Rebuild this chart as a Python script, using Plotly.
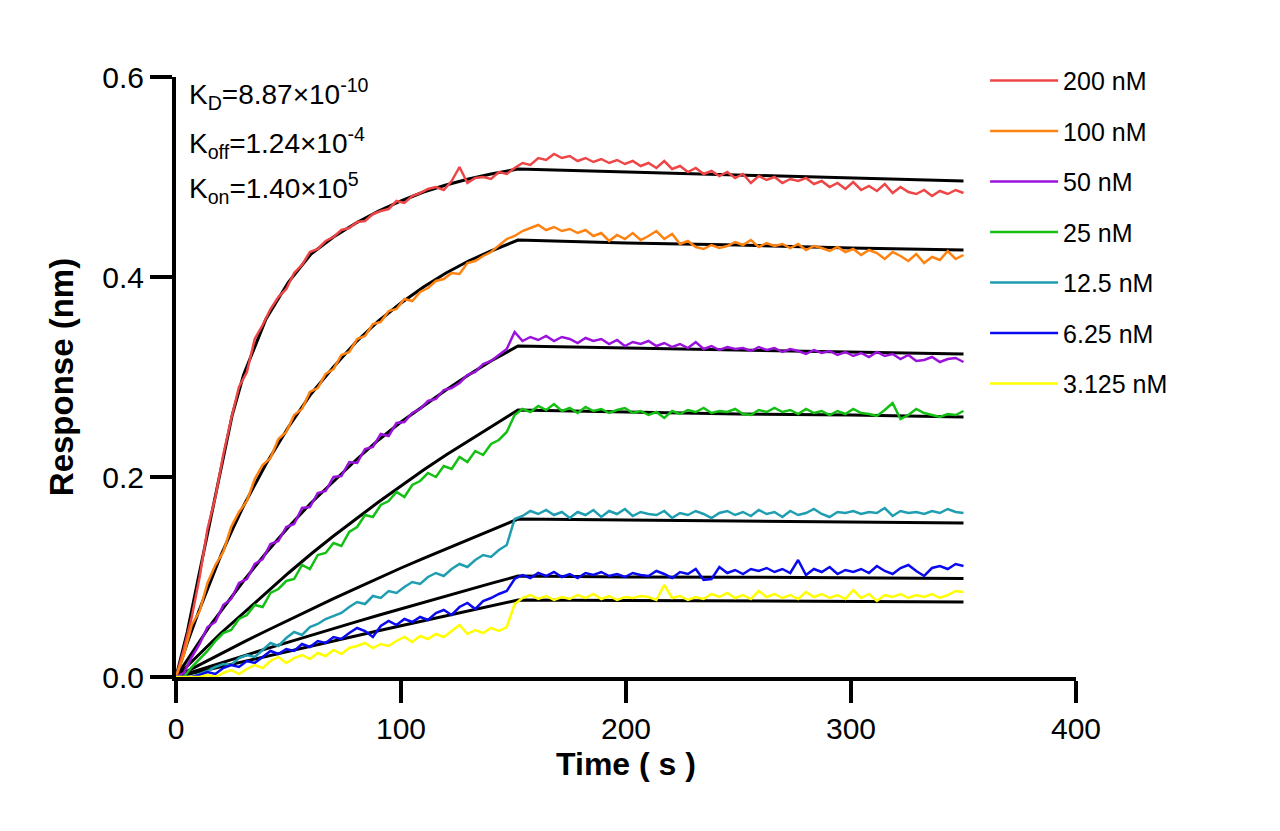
import plotly.graph_objects as go

# ---------------- data ----------------
series_names = ["200 nM", "100 nM", "50 nM", "25 nM", "12.5 nM", "6.25 nM", "3.125 nM"]
series_colors = ["#EE4646", "#FF8210", "#9B12DC", "#14C014", "#1E9EB0", "#0A0AF0", "#FFFF00"]

# sampling grid of the measured curves (s)
time_s = [i * 3.5 for i in range(101)]

resp_200 = [0.000, 0.028, 0.060, 0.100, 0.148, 0.180, 0.222, 0.258, 0.290, 0.305,
            0.338, 0.352, 0.368, 0.380, 0.388, 0.404, 0.412, 0.425, 0.428, 0.436,
            0.440, 0.447, 0.449, 0.455, 0.456, 0.463, 0.466, 0.468, 0.476, 0.474,
            0.481, 0.484, 0.488, 0.490, 0.487, 0.496, 0.510, 0.494, 0.499, 0.500,
            0.498, 0.505, 0.503, 0.509, 0.514, 0.512, 0.519, 0.517, 0.523, 0.519,
            0.521, 0.516, 0.519, 0.515, 0.518, 0.514, 0.517, 0.513, 0.516, 0.511,
            0.514, 0.509, 0.516, 0.508, 0.511, 0.505, 0.509, 0.503, 0.506, 0.501,
            0.505, 0.499, 0.503, 0.494, 0.501, 0.497, 0.500, 0.494, 0.498, 0.496,
            0.499, 0.493, 0.496, 0.490, 0.494, 0.488, 0.495, 0.487, 0.491, 0.486,
            0.493, 0.484, 0.490, 0.485, 0.483, 0.487, 0.481, 0.486, 0.483, 0.487,
            0.484]
resp_100 = [0.000, 0.022, 0.052, 0.066, 0.094, 0.112, 0.125, 0.150, 0.165, 0.176,
            0.198, 0.212, 0.219, 0.238, 0.245, 0.262, 0.268, 0.285, 0.289, 0.303,
            0.308, 0.322, 0.325, 0.338, 0.341, 0.353, 0.355, 0.366, 0.368, 0.378,
            0.376, 0.385, 0.389, 0.396, 0.398, 0.404, 0.403, 0.414, 0.416, 0.421,
            0.425, 0.432, 0.438, 0.441, 0.446, 0.449, 0.452, 0.447, 0.450, 0.446,
            0.448, 0.444, 0.447, 0.441, 0.444, 0.436, 0.442, 0.438, 0.444, 0.437,
            0.441, 0.446, 0.438, 0.443, 0.433, 0.436, 0.430, 0.428, 0.432, 0.429,
            0.431, 0.435, 0.432, 0.437, 0.430, 0.434, 0.431, 0.433, 0.429, 0.433,
            0.427, 0.431, 0.429, 0.426, 0.430, 0.425, 0.428, 0.422, 0.427, 0.424,
            0.418, 0.425, 0.421, 0.416, 0.423, 0.414, 0.420, 0.417, 0.426, 0.418,
            0.422]
resp_50 = [0.000, 0.004, 0.020, 0.033, 0.050, 0.055, 0.072, 0.078, 0.094, 0.098,
           0.113, 0.118, 0.133, 0.136, 0.150, 0.153, 0.169, 0.170, 0.184, 0.186,
           0.200, 0.201, 0.215, 0.214, 0.228, 0.230, 0.243, 0.241, 0.254, 0.255,
           0.264, 0.268, 0.276, 0.278, 0.287, 0.289, 0.294, 0.302, 0.305, 0.313,
           0.316, 0.322, 0.328, 0.345, 0.336, 0.340, 0.337, 0.341, 0.336, 0.340,
           0.338, 0.334, 0.339, 0.336, 0.338, 0.333, 0.337, 0.331, 0.335, 0.333,
           0.336, 0.331, 0.334, 0.330, 0.333, 0.329, 0.335, 0.328, 0.331, 0.327,
           0.330, 0.328, 0.329, 0.326, 0.330, 0.327, 0.329, 0.325, 0.328, 0.326,
           0.323, 0.327, 0.324, 0.326, 0.322, 0.325, 0.321, 0.324, 0.320, 0.325,
           0.321, 0.323, 0.318, 0.322, 0.316, 0.317, 0.320, 0.315, 0.318, 0.319,
           0.315]
resp_25 = [0.000, 0.000, 0.010, 0.018, 0.026, 0.036, 0.044, 0.047, 0.058, 0.062,
           0.072, 0.070, 0.084, 0.088, 0.096, 0.098, 0.112, 0.108, 0.122, 0.124,
           0.134, 0.131, 0.145, 0.150, 0.162, 0.160, 0.172, 0.176, 0.185, 0.180,
           0.192, 0.196, 0.204, 0.200, 0.211, 0.208, 0.220, 0.215, 0.226, 0.222,
           0.233, 0.237, 0.245, 0.262, 0.268, 0.265, 0.271, 0.267, 0.273, 0.266,
           0.269, 0.264, 0.270, 0.266, 0.268, 0.264, 0.267, 0.269, 0.264, 0.266,
           0.262, 0.265, 0.259, 0.266, 0.263, 0.267, 0.265, 0.269, 0.264, 0.266,
           0.265, 0.268, 0.263, 0.262, 0.267, 0.265, 0.269, 0.265, 0.267, 0.263,
           0.268, 0.264, 0.266, 0.262, 0.266, 0.263, 0.268, 0.264, 0.263, 0.261,
           0.267, 0.274, 0.258, 0.262, 0.268, 0.264, 0.262, 0.260, 0.263, 0.262,
           0.266]
resp_12_5 = [0.000, 0.000, 0.000, 0.003, 0.006, 0.010, 0.013, 0.012, 0.019, 0.022,
             0.020, 0.027, 0.034, 0.031, 0.039, 0.045, 0.042, 0.050, 0.053, 0.058,
             0.061, 0.064, 0.070, 0.075, 0.073, 0.081, 0.079, 0.086, 0.084, 0.090,
             0.095, 0.093, 0.100, 0.104, 0.101, 0.108, 0.113, 0.110, 0.117, 0.122,
             0.120, 0.127, 0.132, 0.158, 0.161, 0.166, 0.163, 0.167, 0.162, 0.165,
             0.159, 0.165, 0.162, 0.167, 0.160, 0.166, 0.163, 0.168, 0.161, 0.165,
             0.163, 0.162, 0.166, 0.159, 0.164, 0.162, 0.166, 0.163, 0.159, 0.164,
             0.166, 0.162, 0.165, 0.161, 0.167, 0.163, 0.165, 0.160, 0.166, 0.162,
             0.164, 0.168, 0.163, 0.160, 0.165, 0.164, 0.166, 0.163, 0.165, 0.164,
             0.169, 0.161, 0.166, 0.164, 0.165, 0.163, 0.166, 0.164, 0.168, 0.165,
             0.164]
resp_6_25 = [0.000, 0.000, 0.000, 0.002, 0.005, 0.003, 0.009, 0.012, 0.010, 0.016,
             0.014, 0.020, 0.026, 0.023, 0.028, 0.026, 0.033, 0.030, 0.036, 0.034,
             0.040, 0.038, 0.044, 0.049, 0.046, 0.040, 0.051, 0.056, 0.052, 0.058,
             0.055, 0.060, 0.057, 0.064, 0.067, 0.062, 0.070, 0.074, 0.068, 0.076,
             0.079, 0.083, 0.086, 0.098, 0.102, 0.099, 0.104, 0.101, 0.105, 0.100,
             0.103, 0.099, 0.104, 0.102, 0.105, 0.101, 0.103, 0.100, 0.104, 0.102,
             0.101, 0.106, 0.103, 0.099, 0.105, 0.103, 0.108, 0.097, 0.098, 0.110,
             0.104, 0.107, 0.103, 0.108, 0.106, 0.109, 0.105, 0.108, 0.104, 0.117,
             0.102, 0.108, 0.105, 0.110, 0.103, 0.107, 0.105, 0.108, 0.104, 0.111,
             0.106, 0.103, 0.109, 0.112, 0.106, 0.101, 0.109, 0.111, 0.108, 0.113,
             0.111]
resp_3_125 = [0.000, 0.000, 0.000, 0.000, 0.002, 0.000, 0.004, 0.007, 0.003, 0.008,
              0.012, 0.009, 0.016, 0.020, 0.014, 0.019, 0.022, 0.018, 0.024, 0.021,
              0.027, 0.023, 0.029, 0.031, 0.034, 0.029, 0.033, 0.031, 0.036, 0.040,
              0.035, 0.041, 0.038, 0.043, 0.040, 0.046, 0.052, 0.043, 0.047, 0.044,
              0.049, 0.046, 0.050, 0.073, 0.079, 0.082, 0.078, 0.081, 0.077, 0.080,
              0.078, 0.082, 0.079, 0.083, 0.078, 0.081, 0.077, 0.080, 0.079, 0.081,
              0.080, 0.077, 0.092, 0.079, 0.081, 0.077, 0.080, 0.078, 0.083, 0.080,
              0.084, 0.079, 0.082, 0.078, 0.086, 0.080, 0.083, 0.079, 0.082, 0.078,
              0.085, 0.080, 0.083, 0.079, 0.082, 0.078, 0.087, 0.079, 0.083, 0.076,
              0.082, 0.080, 0.083, 0.079, 0.082, 0.080, 0.083, 0.079, 0.082, 0.086,
              0.085]

# fitted curves (black), read at these times (s)
fit_time_s = [0, 5, 10, 15, 20, 25, 30, 40, 50, 60, 70, 80, 90, 100, 110, 120,
              130, 140, 152, 200, 250, 300, 350]
fit_200 = [0, 0.045, 0.100, 0.155, 0.210, 0.262, 0.302, 0.358, 0.395, 0.423, 0.440,
           0.454, 0.466, 0.476, 0.485, 0.492, 0.498, 0.503, 0.508, 0.505, 0.502, 0.499, 0.496]
fit_100 = [0, 0.034, 0.065, 0.094, 0.122, 0.147, 0.171, 0.213, 0.250, 0.283, 0.310,
           0.335, 0.356, 0.374, 0.390, 0.404, 0.416, 0.426, 0.437, 0.434, 0.432, 0.429, 0.427]
fit_50 = [0, 0.0175, 0.034, 0.051, 0.066, 0.082, 0.096, 0.124, 0.150, 0.174, 0.196,
          0.217, 0.237, 0.255, 0.271, 0.287, 0.302, 0.316, 0.331, 0.329, 0.327, 0.325, 0.323]
fit_25 = [0, 0.0113, 0.022, 0.033, 0.044, 0.054, 0.065, 0.085, 0.104, 0.123, 0.141,
          0.158, 0.175, 0.191, 0.207, 0.222, 0.236, 0.250, 0.267, 0.265, 0.263, 0.262, 0.260]
fit_12_5 = [0, 0.0059, 0.0118, 0.0176, 0.0234, 0.0292, 0.0349, 0.046, 0.057, 0.0677, 0.0784,
            0.0886, 0.099, 0.109, 0.1187, 0.128, 0.1377, 0.147, 0.158, 0.157, 0.156, 0.155, 0.154]
fit_6_25 = [0, 0.0036, 0.0071, 0.0107, 0.0142, 0.0177, 0.0212, 0.0281, 0.0349, 0.0418, 0.0484,
            0.0551, 0.0617, 0.0682, 0.0746, 0.081, 0.0873, 0.0936, 0.101, 0.100, 0.0998, 0.0992, 0.0986]
fit_3_125 = [0, 0.0026, 0.0053, 0.0079, 0.0105, 0.0131, 0.0157, 0.0209, 0.0260, 0.0311, 0.0362,
             0.0413, 0.0463, 0.0513, 0.0563, 0.0613, 0.0662, 0.0711, 0.077, 0.0765, 0.076, 0.0755, 0.075]

responses = [resp_200, resp_100, resp_50, resp_25, resp_12_5, resp_6_25, resp_3_125]
fits = [fit_200, fit_100, fit_50, fit_25, fit_12_5, fit_6_25, fit_3_125]

kinetics_lines = ["K<sub>D</sub>=8.87×10<sup>-10</sup>",
                  "K<sub>off</sub>=1.24×10<sup>-4</sup>",
                  "K<sub>on</sub>=1.40×10<sup>5</sup>"]

# ---------------- figure ----------------
FONT = "Arial, 'Liberation Sans', sans-serif"
fig = go.Figure()

for name, fit in zip(series_names, fits):
    fig.add_trace(go.Scatter(x=fit_time_s, y=fit, mode="lines",
                             line=dict(color="black", width=3),
                             showlegend=False, hoverinfo="skip", name=name + " fit"))

for i, (name, col, ys) in enumerate(zip(series_names, series_colors, responses)):
    fig.add_trace(go.Scatter(x=time_s, y=ys, mode="lines", name=name,
                             line=dict(color=col, width=2.5),
                             legendgroup="g%d" % i))

ann_y = [0.972, 0.89, 0.815]
for txt, yy in zip(kinetics_lines, ann_y):
    fig.add_annotation(x=0.012, y=yy, xref="paper", yref="paper", text=txt,
                       showarrow=False, xanchor="left", yanchor="middle",
                       font=dict(family=FONT, size=28, color="black"))

axis_common = dict(showline=True, linewidth=4, linecolor="black", ticks="outside",
                   ticklen=22, tickwidth=4, tickcolor="black", showgrid=False,
                   zeroline=False, tickfont=dict(family=FONT, size=30, color="black"))

fig.update_layout(
    width=1280, height=831,
    margin=dict(l=176, r=204, t=77, b=154),
    plot_bgcolor="white", paper_bgcolor="white",
    font=dict(family=FONT, color="black"),
    xaxis=dict(range=[0, 400], tickvals=[0, 100, 200, 300, 400],
               title=dict(text="<b>Time ( s )</b>", font=dict(family=FONT, size=32), standoff=10),
               **axis_common),
    yaxis=dict(range=[0, 0.6], tickvals=[0, 0.2, 0.4, 0.6], tickformat=".1f",
               title=dict(text="<b>Response (nm)</b>", font=dict(family=FONT, size=33), standoff=20),
               **axis_common),
    legend=dict(x=0.899, y=1.032, xanchor="left", yanchor="top",
                font=dict(family=FONT, size=25), bgcolor="rgba(0,0,0,0)",
                itemwidth=68, tracegroupgap=15),
)

fig.write_html("out.html")
